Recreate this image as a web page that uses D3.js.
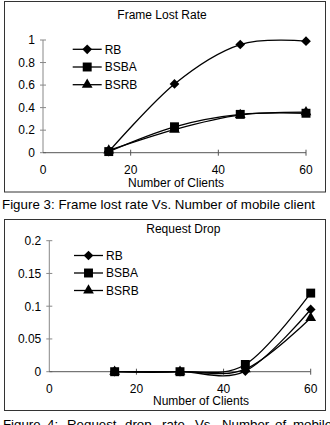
<!DOCTYPE html>
<html>
<head>
<meta charset="utf-8">
<script src="https://cdn.jsdelivr.net/npm/d3@7"></script>
<style>
  body { margin: 0; background: #fff; }
  svg { display: block; font-family: "Liberation Sans", Arial, sans-serif; }
</style>
</head>
<body>
<svg id="fig" width="330" height="425"></svg>
<script>
// data
const clients = [15, 30, 45, 60];
const seriesNames = ["RB", "BSBA", "BSRB"];

// figure 3: frame lost rate
const lostRB = [0.01, 0.61, 0.96, 0.99];
const lostBSBA = [0.01, 0.23, 0.34, 0.35];
const lostBSRB = [0.02, 0.205, 0.335, 0.36];
const lostTicks = [0, 0.2, 0.4, 0.6, 0.8, 1];

// figure 4: request drop
const dropRB = [0, 0, 0.001, 0.095];
const dropBSBA = [0, 0, 0.011, 0.12];
const dropBSRB = [0, 0, 0.004, 0.082];
const dropTicks = [0, 0.05, 0.1, 0.15, 0.2];

const xTicks = [0, 20, 40, 60];

const svg = d3.select("#fig");

const markerShape = {
  RB: d3.symbol().type(d3.symbolDiamond2).size(60),
  BSBA: d3.symbol().type(d3.symbolSquare).size(80),
  BSRB: d3.symbol().type(d3.symbolTriangle).size(50)
};

function drawChart(opt) {
  const g = svg.append("g");

  // frame
  g.append("rect")
    .attr("x", opt.box[0]).attr("y", opt.box[1])
    .attr("width", opt.box[2]).attr("height", opt.box[3])
    .attr("fill", "none").attr("stroke", "#333").attr("stroke-width", 1);

  const x = d3.scaleLinear().domain([0, 60]).range([opt.x0, opt.x1]);
  const y = d3.scaleLinear().domain([0, opt.yMax]).range([opt.y0, opt.y1]);

  // y axis
  g.append("line")
    .attr("x1", opt.x0).attr("x2", opt.x0)
    .attr("y1", y(0)).attr("y2", y(opt.yMax))
    .attr("stroke", "#888");
  opt.yTicks.forEach(t => {
    g.append("line")
      .attr("x1", opt.x0 - 3).attr("x2", opt.x0 + 3)
      .attr("y1", y(t)).attr("y2", y(t))
      .attr("stroke", "#888");
    g.append("text")
      .attr("x", opt.x0 - 8).attr("y", y(t) + 4.3)
      .attr("text-anchor", "end").attr("font-size", 12)
      .text(t);
  });

  // x axis
  g.append("line")
    .attr("x1", x(0)).attr("x2", x(60))
    .attr("y1", y(0)).attr("y2", y(0))
    .attr("stroke", "#555");
  xTicks.forEach(t => {
    if (t > 0) {
      g.append("line")
        .attr("x1", x(t)).attr("x2", x(t))
        .attr("y1", y(0) - 3).attr("y2", y(0) + 3)
        .attr("stroke", "#555");
    }
    g.append("text")
      .attr("x", x(t)).attr("y", opt.xLabelY)
      .attr("text-anchor", "middle").attr("font-size", 12)
      .text(t);
  });

  g.append("text")
    .attr("x", opt.xTitle[0]).attr("y", opt.xTitle[1])
    .attr("text-anchor", "middle").attr("font-size", 12)
    .text("Number of Clients");

  g.append("text")
    .attr("x", opt.title[0]).attr("y", opt.title[1])
    .attr("text-anchor", "middle").attr("font-size", 12)
    .text(opt.titleText);

  const line = d3.line()
    .x((d, i) => x(clients[i]))
    .y(d => y(d))
    .curve(d3.curveCardinal.tension(0));

  opt.series.forEach((vals, k) => {
    g.append("path")
      .attr("d", line(vals))
      .attr("fill", "none").attr("stroke", "#000").attr("stroke-width", 1.3);
  });
  opt.series.forEach((vals, k) => {
    const name = seriesNames[k];
    g.selectAll(null)
      .data(vals)
      .enter()
      .append("path")
      .attr("d", markerShape[name])
      .attr("transform", (d, i) => "translate(" + x(clients[i]) + "," + y(d) + ")")
      .attr("fill", "#000");
  });

  // legend
  seriesNames.forEach((name, k) => {
    const ly = opt.legend[1] + k * opt.legendStep;
    g.append("line")
      .attr("x1", opt.legend[0]).attr("x2", opt.legend[0] + 29)
      .attr("y1", ly).attr("y2", ly)
      .attr("stroke", "#000").attr("stroke-width", 1.3);
    g.append("path")
      .attr("d", markerShape[name])
      .attr("transform", "translate(" + (opt.legend[0] + 14.5) + "," + ly + ")")
      .attr("fill", "#000");
    g.append("text")
      .attr("x", opt.legend[0] + 32).attr("y", ly + 4.3)
      .attr("font-size", 12)
      .text(name);
  });
}

drawChart({
  box: [4.5, 1.5, 321, 190.5],
  x0: 43, x1: 306, y0: 152.7, y1: 40,
  yMax: 1, yTicks: lostTicks,
  xLabelY: 174, xTitle: [176, 186.5],
  title: [162, 19.3], titleText: "Frame Lost Rate",
  series: [lostRB, lostBSBA, lostBSRB],
  legend: [72.7, 49.3], legendStep: 17.7
});

drawChart({
  box: [4.5, 219.5, 321, 191],
  x0: 49.3, x1: 310.7, y0: 371.7, y1: 240.7,
  yMax: 0.2, yTicks: dropTicks,
  xLabelY: 392.5, xTitle: [201, 404.5],
  title: [183.3, 232.5], titleText: "Request Drop",
  series: [dropRB, dropBSBA, dropBSRB],
  legend: [74, 255.5], legendStep: 17.5
});

// captions
svg.append("text")
  .attr("x", 2).attr("y", 209)
  .attr("font-size", 13.3)
  .attr("textLength", 313).attr("lengthAdjust", "spacing")
  .text("Figure 3: Frame lost rate Vs. Number of mobile client");

// justified caption, word by word
const cap4Words = ["Figure", "4:", "Request", "drop", "rate", "Vs.", "Number", "of", "mobile"];
const cap4X = [3, 47, 67, 125, 162, 195, 222, 275, 293];
svg.selectAll(null)
  .data(cap4Words)
  .enter()
  .append("text")
  .attr("x", (d, i) => cap4X[i])
  .attr("y", 428.5)
  .attr("font-size", 13.3)
  .text(d => d);
</script>
</body>
</html>
